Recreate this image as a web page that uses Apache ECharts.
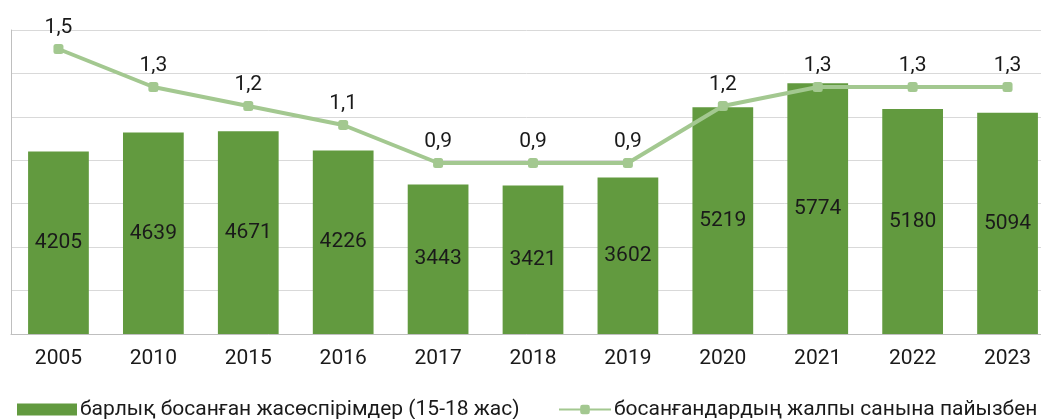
<!DOCTYPE html>
<html>
<head>
<meta charset="utf-8">
<script src="https://cdn.jsdelivr.net/npm/echarts@6/dist/echarts.min.js"></script>
<style>html,body{margin:0;padding:0;background:#fff}#c{width:1041px;height:419px}</style>
</head>
<body>
<div id="c"></div>
<script>
const categories = ['2005','2010','2015','2016','2017','2018','2019','2020','2021','2022','2023'];
const teenBirths = [4205, 4639, 4671, 4226, 3443, 3421, 3602, 5219, 5774, 5180, 5094];
const sharePercent = [1.5, 1.3, 1.2, 1.1, 0.9, 0.9, 0.9, 1.2, 1.3, 1.3, 1.3];
const barName = 'барлық босанған жасөспірімдер (15-18 жас)';
const lineName = 'босанғандардың жалпы санына пайызбен';

const FONT = 'Roboto';
const chart = echarts.init(document.getElementById('c'), null, {renderer: 'canvas'});
chart.setOption({
  animation: false,
  backgroundColor: '#ffffff',
  textStyle: {fontFamily: FONT},
  grid: {left: 11, top: 30, width: 1044, height: 304, containLabel: false, outerBoundsMode: 'none'},
  legend: [
    {
      data: [barName], left: 12, top: 394, itemWidth: 60, itemHeight: 12, itemGap: 0,
      textStyle: {fontFamily: FONT, fontSize: 21, color: '#1a1a1a', padding: [0,0,0,-2]},
      icon: 'rect'
    },
    {
      data: [lineName], left: 553, top: 394, itemWidth: 52, itemHeight: 12, itemGap: 0,
      textStyle: {fontFamily: FONT, fontSize: 21, color: '#1a1a1a', padding: [0,0,0,-2]}
    }
  ],
  xAxis: {
    type: 'category', data: categories,
    axisLine: {show: true, lineStyle: {color: '#bfbfbf', width: 1}},
    axisTick: {show: false},
    axisLabel: {fontFamily: FONT, fontSize: 21, color: '#1a1a1a', margin: 14}
  },
  yAxis: [
    {
      type: 'value', min: 0, max: 7000, interval: 1000,
      axisLabel: {show: false},
      axisLine: {show: true, lineStyle: {color: '#bfbfbf'}},
      axisTick: {show: false},
      splitLine: {lineStyle: {color: '#d9d9d9', width: 1}}
    },
    {
      type: 'value', min: 0, max: 1.6,
      show: false, splitLine: {show: false}
    }
  ],
  series: [
    {
      name: barName, type: 'bar', data: teenBirths, barWidth: '64%',
      itemStyle: {color: '#629a3f'},
      label: {show: true, position: 'inside', fontFamily: FONT, fontSize: 21, color: '#1a1a1a'}
    },
    {
      name: lineName, type: 'line', yAxisIndex: 1, data: sharePercent,
      symbol: 'roundRect', symbolSize: 10,
      lineStyle: {color: '#a3c890', width: 4},
      itemStyle: {color: '#a3c890'},
      label: {
        show: true, position: 'top', distance: 6, fontFamily: FONT, fontSize: 21, color: '#1a1a1a',
        formatter: p => p.value.toFixed(1).replace('.', ',')
      }
    }
  ]
});
</script>
</body>
</html>
